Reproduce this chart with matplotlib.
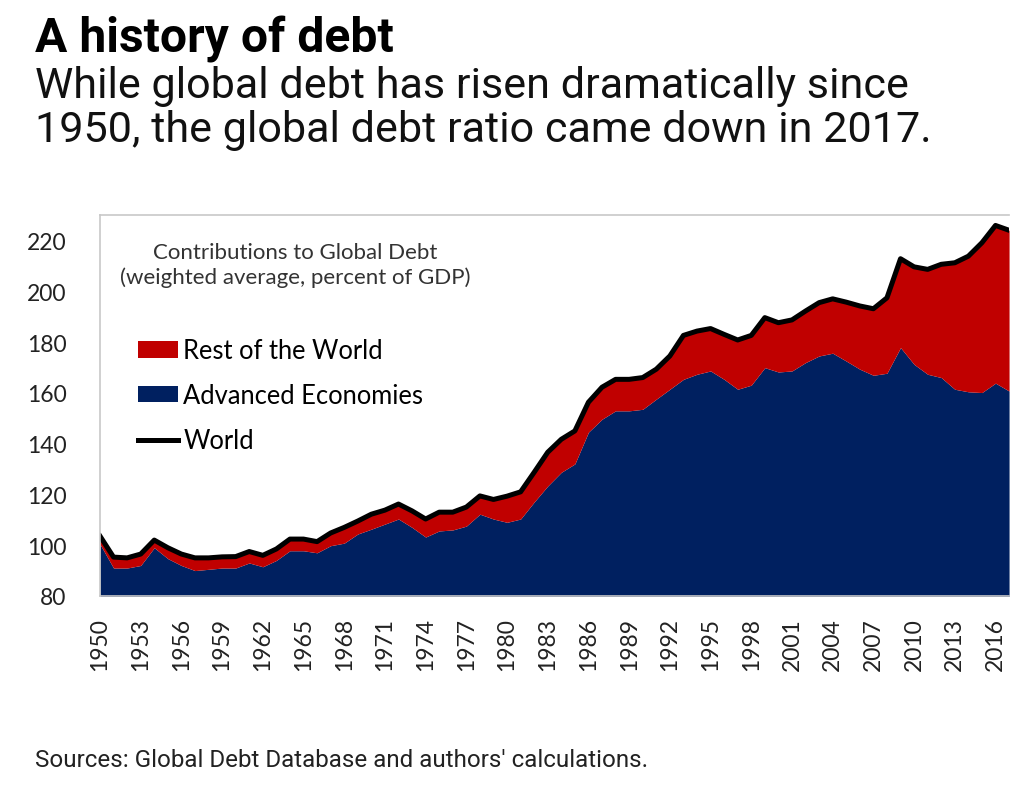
import numpy as np
import matplotlib
matplotlib.use('Agg')
import matplotlib.pyplot as plt
from matplotlib.patches import Patch
from matplotlib.lines import Line2D

# data (percent of GDP)
years = list(range(1950, 2018))
world = [103.6, 95.3, 95.0, 96.5, 102.0, 99.0, 96.5, 95.0, 95.0, 95.4,
         95.5, 97.5, 96.0, 98.5, 102.4, 102.4, 101.4, 104.8,
         107.0, 109.5, 112.2, 113.8, 116.2, 113.5, 110.3, 113.0, 113.0, 115.0,
         119.4, 118.0, 119.3, 121.0, 128.7, 136.6, 141.7, 145.0,
         156.3, 162.2, 165.3, 165.3, 166.0, 169.3, 174.5, 182.6, 184.3, 185.3,
         183.0, 180.8, 182.6, 189.6, 187.6, 188.7, 192.2, 195.5, 197.0, 195.7,
         194.2, 193.1, 197.4, 212.8, 209.6, 208.6, 210.6, 211.2, 213.8, 219.1,
         225.9, 224.0]
advanced = [100.4, 91.0, 91.0, 92.0, 99.0, 94.7, 92.0, 90.0, 90.5, 91.0,
            91.0, 93.0, 91.5, 94.0, 97.8, 97.8, 97.0, 99.8,
            100.8, 104.4, 106.3, 108.3, 110.3, 107.0, 103.2, 105.6, 106.0, 107.5,
            112.2, 110.3, 109.0, 110.3, 117.0, 123.3, 128.7, 132.0,
            144.5, 149.6, 152.9, 152.9, 153.5, 157.5, 161.4, 165.3, 167.3, 168.6,
            165.3, 161.4, 163.0, 169.9, 168.2, 168.6, 171.9, 174.5, 175.6, 172.5,
            169.3, 166.9, 167.7, 177.8, 171.2, 167.3, 166.0, 161.4, 160.4, 160.1,
            163.8, 160.7]
x_ticks = list(range(1950, 2017, 3))
y_ticks = [80, 100, 120, 140, 160, 180, 200, 220]

blue = '#002060'
red = '#c00000'
chart_font = 'Lato'
head_font = 'Roboto'

fig = plt.figure(figsize=(10.36, 8.04), dpi=100)
ax = fig.add_axes([0.0965, 0.2575, 0.8775, 0.4738])

ax.fill_between(years, 0, advanced, color=blue, lw=0)
ax.fill_between(years, advanced, world, color=red, lw=0)
ax.plot(years, world, color='black', lw=3.6, solid_joinstyle='round')

ax.set_xlim(1950, 2017)
ax.set_ylim(80, 230)
ax.set_xticks(x_ticks)
ax.set_xticklabels([str(y) for y in x_ticks], rotation=90, family=chart_font,
                   fontsize=16.5, color='#222222')
ax.set_yticks(y_ticks)
ax.set_yticklabels([str(y) for y in y_ticks], family=chart_font,
                   fontsize=16.5, color='#222222')
ax.tick_params(axis='x', length=0, pad=15)
ax.tick_params(axis='y', length=0, pad=24)
for s in ax.spines.values():
    s.set_color('#c8c8c8')
    s.set_linewidth(1.2)
ax.spines['right'].set_visible(False)

ax.text(0.2145, 0.87, 'Contributions to Global Debt\n(weighted average, percent of GDP)',
        transform=ax.transAxes, ha='center', va='center', family=chart_font,
        fontsize=16, color='#333333', linespacing=1.25)

handles = [Patch(facecolor=red, edgecolor='none'),
           Patch(facecolor=blue, edgecolor='none'),
           Line2D([0], [0], color='black', lw=3.6)]
labels = ['Rest of the World', 'Advanced Economies', 'World']
ax.legend(handles, labels, loc='upper left', bbox_to_anchor=(0.042, 0.676),
          frameon=False, borderpad=0, borderaxespad=0, handlelength=1.56,
          handleheight=0.6, handletextpad=0.2, labelspacing=0.78,
          prop={'family': chart_font, 'size': 18.4})

fig.text(0.0338, 0.9353, 'A history of debt', family=head_font, weight='bold',
         fontsize=34.6, va='baseline', ha='left', color='black')
fig.text(0.0338, 0.878, 'While global debt has risen dramatically since',
         family=head_font, fontsize=31.1, va='baseline', ha='left', color='#111111')
fig.text(0.0338, 0.8234, '1950, the global debt ratio came down in 2017.',
         family=head_font, fontsize=31.1, va='baseline', ha='left', color='#111111')
fig.text(0.0338, 0.046, "Sources: Global Debt Database and authors' calculations.",
         family=head_font, fontsize=17.4, va='baseline', ha='left', color='#222222')

fig.savefig('out.png', dpi=100)
